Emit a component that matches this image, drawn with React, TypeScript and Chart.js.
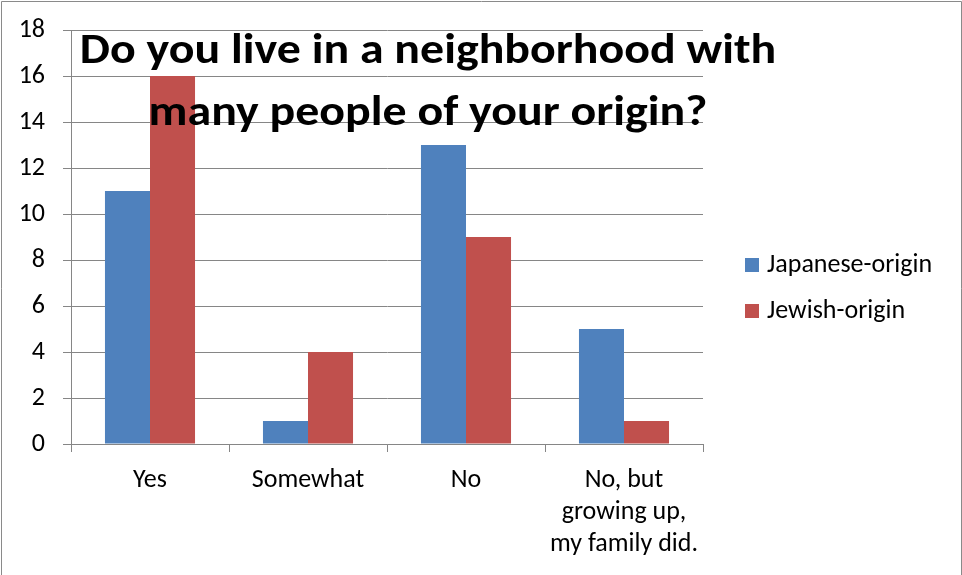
import React, { useEffect, useRef } from "react";
import { Chart, registerables } from "chart.js";

Chart.register(...registerables);

const categories: (string | string[])[] = ["Yes", "Somewhat", "No", ["No, but", "growing up,", "my family did."]];
const japaneseOrigin = [11, 1, 13, 5];
const jewishOrigin = [16, 4, 9, 1];
const seriesNames = ["Japanese-origin", "Jewish-origin"];
const seriesColors = ["#4F81BD", "#C0504D"];
const titleLines = ["Do you live in a neighborhood with", "many people of your origin?"];
const yMin = 0;
const yMax = 18;
const yStep = 2;

const FONT = "Carlito, 'Open Sans', sans-serif";

export default function App() {
  const ref = useRef<HTMLCanvasElement | null>(null);
  useEffect(() => {
    if (!ref.current) return;
    const overlay = {
      id: "overlay",
      afterDraw(chart: any) {
        const ctx = chart.ctx;
        const area = chart.chartArea;
        ctx.save();
        // outer border
        ctx.strokeStyle = "#8a8a8a";
        ctx.lineWidth = 1;
        ctx.beginPath();
        ctx.moveTo(1.5, chart.height + 2);
        ctx.lineTo(1.5, 1.5);
        ctx.lineTo(chart.width - 0.5, 1.5);
        ctx.lineTo(chart.width - 0.5, chart.height + 2);
        ctx.stroke();
        // legend
        ctx.font = `26px ${FONT}`;
        ctx.textBaseline = "middle";
        ctx.textAlign = "left";
        chart.data.datasets.forEach((ds: any, i: number) => {
          const y = area.top + 235 + i * 46;
          ctx.fillStyle = ds.backgroundColor;
          ctx.fillRect(area.right + 42, y - 7, 14, 14);
          ctx.fillStyle = "#000";
          ctx.fillText(ds.label, area.right + 64, y);
        });
        // title
        ctx.font = `bold 42px ${FONT}`;
        ctx.textAlign = "center";
        ctx.textBaseline = "alphabetic";
        ctx.fillStyle = "#000";
        const cx = area.left + 357;
        titleLines.forEach((t, i) => {
          ctx.save();
          ctx.translate(cx, area.top + 33 + i * 62);
          ctx.scale(1.14, 1);
          ctx.fillText(t, 0, 0);
          ctx.restore();
        });
        ctx.restore();
      },
    };
    const chart = new Chart(ref.current, {
      type: "bar",
      data: {
        labels: categories,
        datasets: [
          { label: seriesNames[0], data: japaneseOrigin, backgroundColor: seriesColors[0] },
          { label: seriesNames[1], data: jewishOrigin, backgroundColor: seriesColors[1] },
        ],
      },
      options: {
        animation: false,
        responsive: false,
        maintainAspectRatio: false,
        layout: { padding: { top: 30, right: 259, bottom: 0, left: 0 } },
        plugins: { legend: { display: false }, title: { display: false }, tooltip: { enabled: false } },
        datasets: { bar: { categoryPercentage: 0.57, barPercentage: 1 } },
        scales: {
          x: {
            grid: { display: true, drawOnChartArea: false, drawTicks: true, tickLength: 8, color: "#868686", offset: true },
            border: { display: true, color: "#868686" },
            ticks: { color: "#000", font: { family: FONT, size: 26, lineHeight: 1.23 }, padding: 13, maxRotation: 0, autoSkip: false },
            afterFit(scale: any) { scale.height = 131; scale.paddingLeft = 0; scale.paddingRight = 0; },
          },
          y: {
            min: yMin,
            max: yMax,
            ticks: { stepSize: yStep, color: "#000", font: { family: FONT, size: 26 }, padding: 18 },
            grid: { color: "#868686", tickLength: 8 },
            border: { display: true, color: "#868686" },
            afterFit(scale: any) { scale.width = 71; scale.paddingTop = 0; scale.paddingBottom = 0; },
          },
        },
      },
      plugins: [overlay],
    });
    return () => chart.destroy();
  }, []);
  return (
    <div style={{ position: "fixed", left: 0, top: 0, width: 962, height: 575, background: "#fff" }}>
      <canvas ref={ref} width={962} height={575} style={{ display: "block", width: 962, height: 575 }} />
    </div>
  );
}
